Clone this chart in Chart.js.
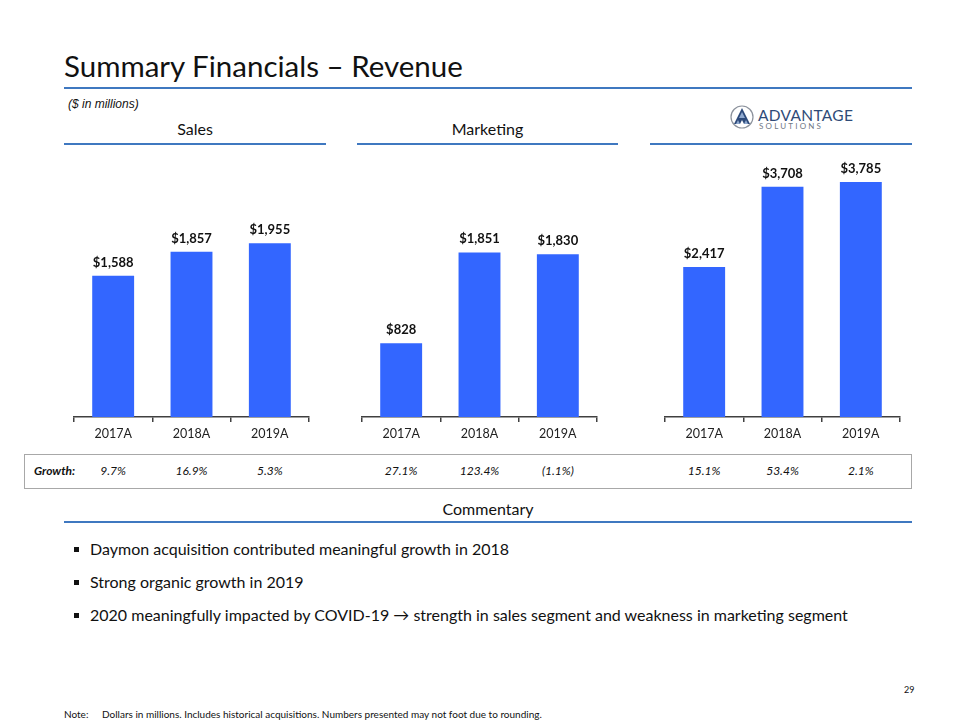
<!DOCTYPE html>
<html>
<head>
<meta charset="utf-8">
<script src="https://cdn.jsdelivr.net/npm/chart.js@4.4.1/dist/chart.umd.min.js"></script>
<style>
  html, body { margin: 0; padding: 0; background: #fff; }
  body { width: 960px; height: 720px; position: relative; overflow: hidden; font-family: Lato, "Open Sans", sans-serif; color: #111; }
  .abs { position: absolute; white-space: nowrap; }
  .rule { position: absolute; height: 2px; background: #3f78c0; }
  .hdr { position: absolute; font-size: 16px; line-height: 20px; text-align: center; color: #111; }
  canvas { position: absolute; }
  .growth { position: absolute; font-size: 12px; font-style: italic; line-height: 14px; top: 464px; transform: translateX(-50%); color: #111; }
  .bullet { position: absolute; font-size: 16px; line-height: 20px; left: 90px; color: #111; }
  .sq { position: absolute; left: 74px; width: 5px; height: 5px; background: #111; }
</style>
</head>
<body>
<script>
// ---- data ----
const years = ['2017A', '2018A', '2019A'];
const salesRevenue = [1588, 1857, 1955];
const marketingRevenue = [828, 1851, 1830];
const totalRevenue = [2417, 3708, 3785];
const salesGrowth = ['9.7%', '16.9%', '5.3%'];
const marketingGrowth = ['27.1%', '123.4%', '(1.1%)'];
const totalGrowth = ['15.1%', '53.4%', '2.1%'];
const segmentTitles = ['Sales', 'Marketing'];
const commentary = [
  'Daymon acquisition contributed meaningful growth in 2018',
  'Strong organic growth in 2019',
  '2020 meaningfully impacted by COVID-19 \u2192 strength in sales segment and weakness in marketing segment'
];
</script>

<div class="abs" style="left:64px; top:48px; font-size:29.5px; line-height:36px; color:#111;">Summary Financials – Revenue</div>
<div class="rule" style="left:64px; top:87px; width:848px;"></div>
<div class="abs" style="left:68px; top:97px; font-family:'Liberation Sans', Arial, sans-serif; font-style:italic; font-size:12px; line-height:15px;">($ in millions)</div>

<div class="hdr" id="h0" style="left:64px; top:119px; width:262px;"></div>
<div class="hdr" id="h1" style="left:357px; top:119px; width:261px;"></div>
<div class="rule" style="left:64px; top:143px; width:262px;"></div>
<div class="rule" style="left:357px; top:143px; width:261px;"></div>
<div class="rule" style="left:650px; top:143px; width:262px;"></div>

<!-- logo -->
<svg class="abs" style="left:728px; top:103px;" width="30" height="28" viewBox="0 0 30 28">
  <circle cx="14" cy="14" r="11" fill="none" stroke="#8c929c" stroke-width="1.2"/>
  <polygon points="14,5 6,21 22,21" fill="#2d4a7a"/>
  <polygon points="14,9 11,15 17,15" fill="#8fa9cf"/>
  <polygon points="10,17 8,21 12,21" fill="#8fa9cf"/>
  <polygon points="18,17 16,21 20,21" fill="#8fa9cf"/>
  <polygon points="14,17 12,21 16,21" fill="#ffffff"/>
</svg>
<div class="abs" style="left:758px; top:107px; font-size:15.5px; line-height:17px; color:#2f4b78; letter-spacing:0.3px;">ADVANTAGE</div>
<div class="abs" style="left:759px; top:122px; font-size:8px; line-height:9px; color:#6f7885; letter-spacing:2.2px;">SOLUTIONS</div>

<canvas id="c0" width="255" height="291" style="left:64px; top:150px;"></canvas>
<canvas id="c1" width="255" height="291" style="left:352px; top:150px;"></canvas>
<canvas id="c2" width="255" height="291" style="left:655px; top:150px;"></canvas>

<div class="abs" style="left:24px; top:454px; width:886px; height:33px; border:1.5px solid #a8a8a8;"></div>
<div class="abs" style="left:34px; top:464px; font-size:12px; font-style:italic; font-weight:bold; line-height:14px;">Growth:</div>
<div id="growthRow"></div>

<div class="hdr" style="left:64px; top:499px; width:848px;">Commentary</div>
<div class="rule" style="left:64px; top:521px; width:848px;"></div>
<div id="comments"></div>

<div class="abs" style="left:904px; top:684px; font-size:9px; line-height:11px;">29</div>
<div class="abs" style="left:64px; top:708px; font-size:10px; line-height:12px;">Note:</div>
<div class="abs" style="left:102px; top:708px; font-size:10px; line-height:12px;">Dollars in millions. Includes historical acquisitions. Numbers presented may not foot due to rounding.</div>

<script>
document.getElementById('h0').textContent = segmentTitles[0];
document.getElementById('h1').textContent = segmentTitles[1];

const cm = document.getElementById('comments');
const bulletTops = [539, 572, 605];
commentary.forEach((t, i) => {
  const sq = document.createElement('div');
  sq.className = 'sq';
  sq.style.top = (bulletTops[i] + 8) + 'px';
  cm.appendChild(sq);
  const d = document.createElement('div');
  d.className = 'bullet';
  d.style.top = bulletTops[i] + 'px';
  d.textContent = t;
  cm.appendChild(d);
});

const valueLabels = {
  id: 'valueLabels',
  afterDatasetsDraw(chart) {
    const ctx = chart.ctx;
    ctx.save();
    ctx.font = 'bold 13px Lato, sans-serif';
    ctx.fillStyle = '#111';
    ctx.textAlign = 'center';
    ctx.textBaseline = 'alphabetic';
    const ds = chart.data.datasets[0];
    chart.getDatasetMeta(0).data.forEach((bar, i) => {
      ctx.fillText('$' + ds.data[i].toLocaleString('en-US'), bar.x, bar.y - 9);
    });
    ctx.restore();
  }
};

function makeChart(id, values, ymax, growth) {
  const canvas = document.getElementById(id);
  const chart = new Chart(canvas, {
    type: 'bar',
    data: {
      labels: years,
      datasets: [{
        data: values,
        backgroundColor: '#3366ff',
        borderWidth: 0,
        barPercentage: 0.535,
        categoryPercentage: 1
      }]
    },
    options: {
      responsive: false,
      animation: false,
      devicePixelRatio: 1,
      layout: { padding: { left: 10, right: 10, top: 10, bottom: 0 } },
      plugins: { legend: { display: false }, tooltip: { enabled: false } },
      scales: {
        y: { display: false, min: 0, max: ymax },
        x: {
          grid: { offset: true, drawOnChartArea: false, drawTicks: true, tickLength: 5, color: '#404040', lineWidth: 1.5 },
          border: { display: true, color: '#404040', width: 1.5 },
          ticks: { color: '#222', font: { family: 'Lato', size: 12.5 }, padding: 4 },
          afterFit: (s) => { s.height = 24; }
        }
      }
    },
    plugins: [valueLabels]
  });
  const left = parseFloat(canvas.style.left);
  const row = document.getElementById('growthRow');
  growth.forEach((g, i) => {
    const d = document.createElement('div');
    d.className = 'growth';
    d.style.left = (left + chart.scales.x.getPixelForValue(i)) + 'px';
    d.textContent = g;
    row.appendChild(d);
  });
}

function build() {
  makeChart('c0', salesRevenue, 2890, salesGrowth);
  makeChart('c1', marketingRevenue, 2890, marketingGrowth);
  makeChart('c2', totalRevenue, 4138, totalGrowth);
}
if (document.fonts && document.fonts.load) {
  Promise.all([document.fonts.load('12px Lato'), document.fonts.load('bold 12px Lato')]).then(build, build);
} else { build(); }
</script>
</body>
</html>
